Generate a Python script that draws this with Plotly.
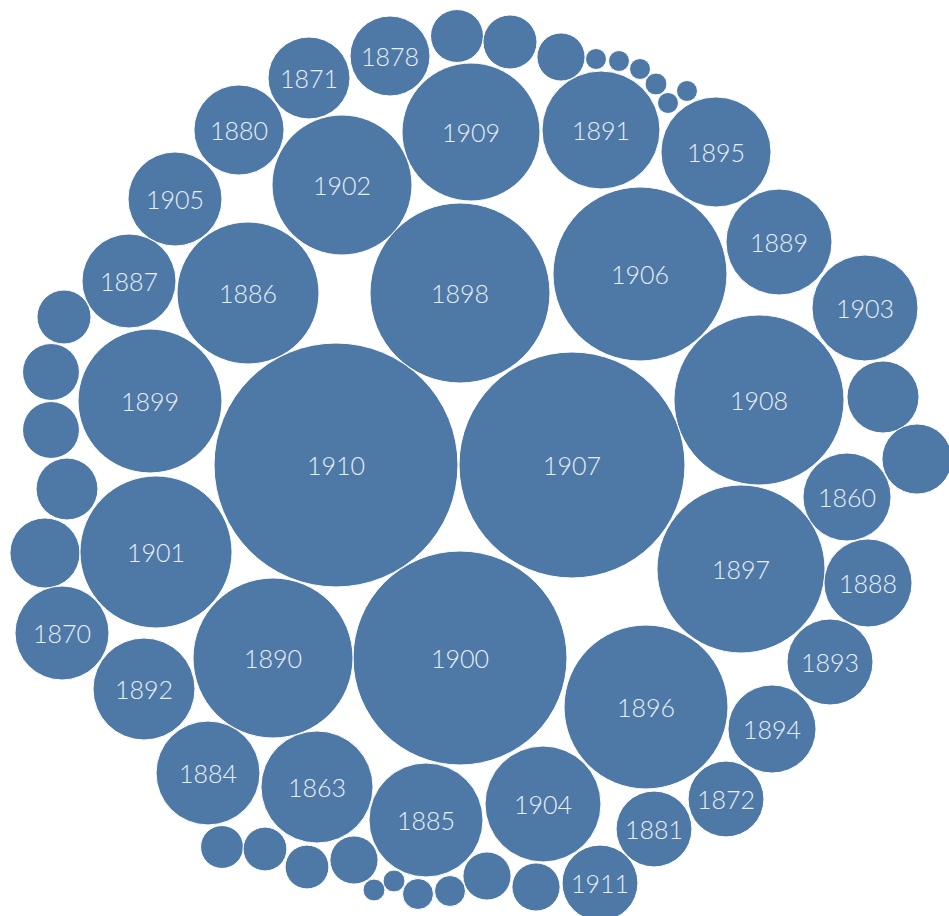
import math
import plotly.graph_objects as go

# Labelled bubbles: year, value (bubble area), layout x, layout y
years = ["1910", "1907", "1900", "1898", "1906", "1908", "1897", "1896", "1890",
         "1901", "1899", "1886", "1902", "1909", "1891", "1904", "1885", "1863",
         "1895", "1889", "1903", "1884", "1892", "1905", "1887", "1870", "1880",
         "1860", "1888", "1894", "1893", "1871", "1878", "1872", "1881", "1911"]
values = [148.8, 127.7, 114.5, 81.0, 75.7, 72.3, 70.6, 67.2, 64.0,
          57.8, 51.8, 50.4, 49.0, 47.6, 34.8, 33.6, 32.5, 31.4,
          30.3, 28.1, 28.1, 27.0, 26.0, 22.1, 22.1, 22.1, 20.3,
          19.4, 19.4, 19.4, 18.5, 16.8, 16.0, 14.4, 14.4, 14.4]
xs = [336, 572, 460, 460, 640, 759, 741, 646, 273,
      156, 150, 248, 342, 471, 601, 543, 426, 317,
      716, 779, 865, 208, 144, 175, 129, 62, 239,
      847, 868, 772, 830, 309, 390, 726, 654, 600]
ys = [465, 465, 658, 293, 274, 400, 569, 707, 658,
      552, 401, 293, 185, 132, 130, 804, 820, 787,
      152, 242, 308, 773, 689, 199, 281, 633, 130,
      497, 583, 729, 662, 78, 56, 799, 829, 883]

# Unlabelled (small) bubbles
small_values = [7.0, 7.3, 5.8, 1.1, 1.1, 1.1, 1.2, 1.1, 1.1,
                13.0, 12.3,
                7.3, 8.1, 8.1, 9.6, 12.3,
                4.6, 4.8, 4.8, 5.8, 1.2, 1.2, 2.4, 2.4, 5.8, 5.8]
small_xs = [457, 510, 561, 596, 619, 640, 656, 668, 687,
            883, 917,
            64, 51, 51, 67, 45,
            222, 265, 307, 354, 374, 394, 418, 450, 487, 536]
small_ys = [36, 42, 57, 59, 61, 69, 84, 103, 91,
            397, 459,
            317, 372, 430, 489, 553,
            847, 849, 867, 860, 890, 881, 894, 891, 876, 887]

W, H = 949, 916
COLOR = "#4E79A7"
LABEL_DY = 4  # small downward nudge of labels (px)


def diam(v):
    return 20 * math.sqrt(v)


fig = go.Figure()
fig.add_trace(go.Scatter(
    x=small_xs, y=small_ys, mode="markers",
    marker=dict(size=[diam(v) for v in small_values], sizemode="diameter",
                color=COLOR, opacity=1, line=dict(width=1, color="white")),
    hoverinfo="skip", showlegend=False,
))
fig.add_trace(go.Scatter(
    x=xs, y=ys, mode="markers",
    marker=dict(size=[diam(v) for v in values], sizemode="diameter",
                color=COLOR, opacity=1, line=dict(width=1, color="white")),
    text=years, customdata=values,
    hovertemplate="%{text}<br>%{customdata}<extra></extra>",
    showlegend=False,
))
fig.add_trace(go.Scatter(
    x=xs, y=[y + LABEL_DY for y in ys], mode="text", text=years,
    textposition="middle center",
    textfont=dict(family="Lato", size=25, color="#E9EFF6", weight=300),
    hoverinfo="skip", showlegend=False,
))

fig.update_layout(
    width=W, height=H,
    margin=dict(l=0, r=0, t=0, b=0),
    paper_bgcolor="white", plot_bgcolor="white",
    xaxis=dict(range=[0, W], visible=False, fixedrange=True),
    yaxis=dict(range=[H, 0], visible=False, fixedrange=True),
)

fig.write_html("out.html", config={"displayModeBar": False},
               post_script="document.body.style.margin='0';")
